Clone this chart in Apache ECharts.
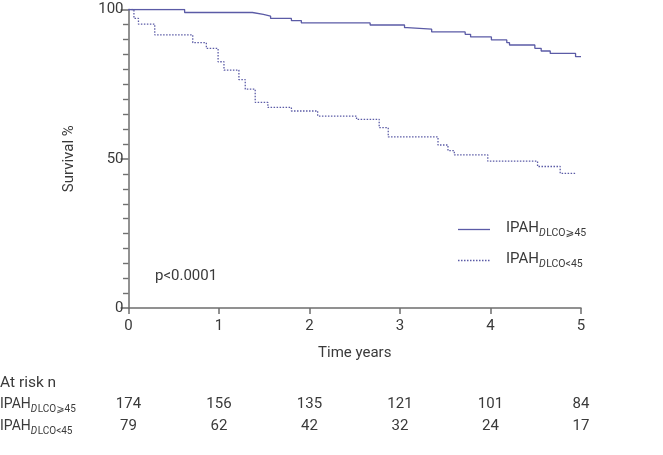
<!DOCTYPE html>
<html>
<head>
<meta charset="utf-8">
<script src="https://cdn.jsdelivr.net/npm/echarts@6/dist/echarts.min.js"></script>
<style>
html,body{margin:0;padding:0;background:#fff;}
#main{width:663px;height:455px;}
</style>
</head>
<body>
<div id="main"></div>
<script>
// ---- data ----
var highT = [0, 0.62, 1.37, 1.49, 1.57, 1.80, 1.91, 2.67, 3.05, 3.08, 3.35, 3.72, 3.78, 4.01, 4.18, 4.21, 4.49, 4.56, 4.66, 4.94, 5.0];
var highS = [100, 99.0, 98.4, 97.8, 97.0, 96.3, 95.5, 94.8, 93.9, 93.4, 92.5, 91.7, 90.8, 89.8, 88.9, 88.1, 87.0, 86.1, 85.3, 84.2, 84.2];
var lowT = [0, 0.06, 0.11, 0.29, 0.71, 0.86, 0.99, 1.055, 1.22, 1.29, 1.40, 1.54, 1.80, 2.09, 2.52, 2.77, 2.87, 3.42, 3.53, 3.60, 3.97, 4.52, 4.77, 4.94];
var lowS = [100, 97.0, 95.1, 91.5, 88.9, 87.0, 82.5, 79.7, 76.5, 73.3, 68.9, 67.2, 66.0, 64.3, 63.2, 60.4, 57.3, 54.6, 52.7, 51.3, 49.2, 47.4, 45.1, 45.1];
var atRiskTimes = [0, 1, 2, 3, 4, 5];
var atRiskHigh = [174, 156, 135, 121, 101, 84];
var atRiskLow = [79, 62, 42, 32, 24, 17];
var minorYTicks = [5, 10, 15, 20, 25, 30, 35, 40, 45, 55, 60, 65, 70, 75, 80, 85, 90, 95];
var seriesNames = ['IPAH DLCO ⩾45', 'IPAH DLCO <45'];
var subSuffix = ['⩾45', '<45'];
var pText = 'p<0.0001';

var FONT = 'Roboto, "Noto Sans", "DejaVu Sans", sans-serif';
var TXT = '#3a3a3a';
var LINE = '#5b5ba6';
var AX = '#6e6e6e';

function pairs(t, s) { return t.map(function (v, i) { return [v, s[i]]; }); }

var measureCtx = document.createElement('canvas').getContext('2d');
function tw(text, size, italic) {
  measureCtx.font = (italic ? 'italic ' : '') + size + 'px ' + FONT;
  return measureCtx.measureText(text).width;
}
function txt(text, x, y, size, opts) {
  opts = opts || {};
  return {
    type: 'text', x: x, y: y, silent: true,
    style: {
      text: text, fill: TXT, fontSize: size, fontFamily: FONT,
      fontStyle: opts.italic ? 'italic' : 'normal',
      align: opts.align || 'left', verticalAlign: 'middle',
      textAlign: opts.align || 'left', textVerticalAlign: 'middle'
    }
  };
}
function groupLabel(x, y, big, small, suffix) {
  var els = [];
  var cx = x;
  els.push(txt('IPAH', cx, y, big)); cx += tw('IPAH', big);
  var sy = y + big * 0.38;
  els.push(txt('D', cx, sy, small, {italic: true})); cx += tw('D', small, true) + 0.5;
  els.push(txt('LCO', cx, sy, small)); cx += tw('LCO', small);
  els.push(txt(suffix, cx, sy, small));
  return els;
}

var chart = echarts.init(document.getElementById('main'), null, {renderer: 'canvas'});

var graphics = [];
// legend
graphics.push({type: 'line', silent: true, shape: {x1: 458, y1: 229.5, x2: 490, y2: 229.5}, style: {stroke: LINE, lineWidth: 1.3}});
graphics.push({type: 'line', silent: true, shape: {x1: 458, y1: 260.5, x2: 490, y2: 260.5}, style: {stroke: LINE, lineWidth: 1.3, lineDash: [1.5, 1.5]}});
graphics = graphics.concat(groupLabel(506, 228, 15, 10.5, subSuffix[0]));
graphics = graphics.concat(groupLabel(506, 259, 15, 10.5, subSuffix[1]));
// p value
graphics.push(txt(pText, 155, 276, 15));
// at-risk table labels
graphics.push(txt('At risk n', 0, 383, 15.5));
graphics = graphics.concat(groupLabel(0, 404, 14, 10, subSuffix[0]));
graphics = graphics.concat(groupLabel(0, 426, 14, 10, subSuffix[1]));

var option = {
  animation: false,
  backgroundColor: '#fff',
  grid: {left: 128.5, right: 82, top: 9.5, bottom: 147, containLabel: false},
  xAxis: {
    type: 'value', min: 0, max: 5, interval: 1,
    name: 'Time years', nameLocation: 'middle', nameGap: 38,
    nameTextStyle: {color: TXT, fontSize: 15, fontFamily: FONT},
    axisLine: {show: true, onZero: false, lineStyle: {color: AX, width: 1.5}},
    axisTick: {show: true, inside: false, length: 6, lineStyle: {color: AX, width: 1.5}},
    axisLabel: {show: true, color: TXT, fontSize: 15, fontFamily: FONT, margin: 11},
    splitLine: {show: false}
  },
  yAxis: {
    type: 'value', min: 0, max: 100, interval: 50,
    name: 'Survival %', nameLocation: 'middle', nameGap: 52, nameRotate: 90,
    nameTextStyle: {color: TXT, fontSize: 15, fontFamily: FONT},
    axisLine: {show: true, onZero: false, lineStyle: {color: AX, width: 1.5}},
    axisTick: {show: true, inside: false, length: 8, lineStyle: {color: AX, width: 1.5}},
    axisLabel: {show: true, color: TXT, fontSize: 15, fontFamily: FONT, margin: 5},
    splitLine: {show: false}
  },
  series: [
    {
      name: seriesNames[0], type: 'line', step: 'end', symbol: 'none',
      data: pairs(highT, highS),
      lineStyle: {color: LINE, width: 1.3}
    },
    {
      name: seriesNames[1], type: 'line', step: 'end', symbol: 'none',
      data: pairs(lowT, lowS),
      lineStyle: {color: LINE, width: 1.3, type: [1.5, 1.5]}
    }
  ],
  graphic: graphics
};
chart.setOption(option);

// at-risk numbers under the x-axis positions of their times; minor y ticks from the scales
var extra = [];
atRiskTimes.forEach(function (t, i) {
  var p = chart.convertToPixel({gridIndex: 0}, [t, 0]);
  extra.push(txt(String(atRiskHigh[i]), p[0], 404, 15, {align: 'center'}));
  extra.push(txt(String(atRiskLow[i]), p[0], 426, 15, {align: 'center'}));
});
minorYTicks.forEach(function (v) {
  var p = chart.convertToPixel({gridIndex: 0}, [0, v]);
  var py = Math.round(p[1]) + 0.5;
  extra.push({type: 'line', silent: true, z: 100,
    shape: {x1: p[0] - 5.5, y1: py, x2: p[0], y2: py},
    style: {stroke: '#707070', lineWidth: 1.4}});
});
option.graphic = graphics.concat(extra);
chart.setOption(option, true);
</script>
</body>
</html>
